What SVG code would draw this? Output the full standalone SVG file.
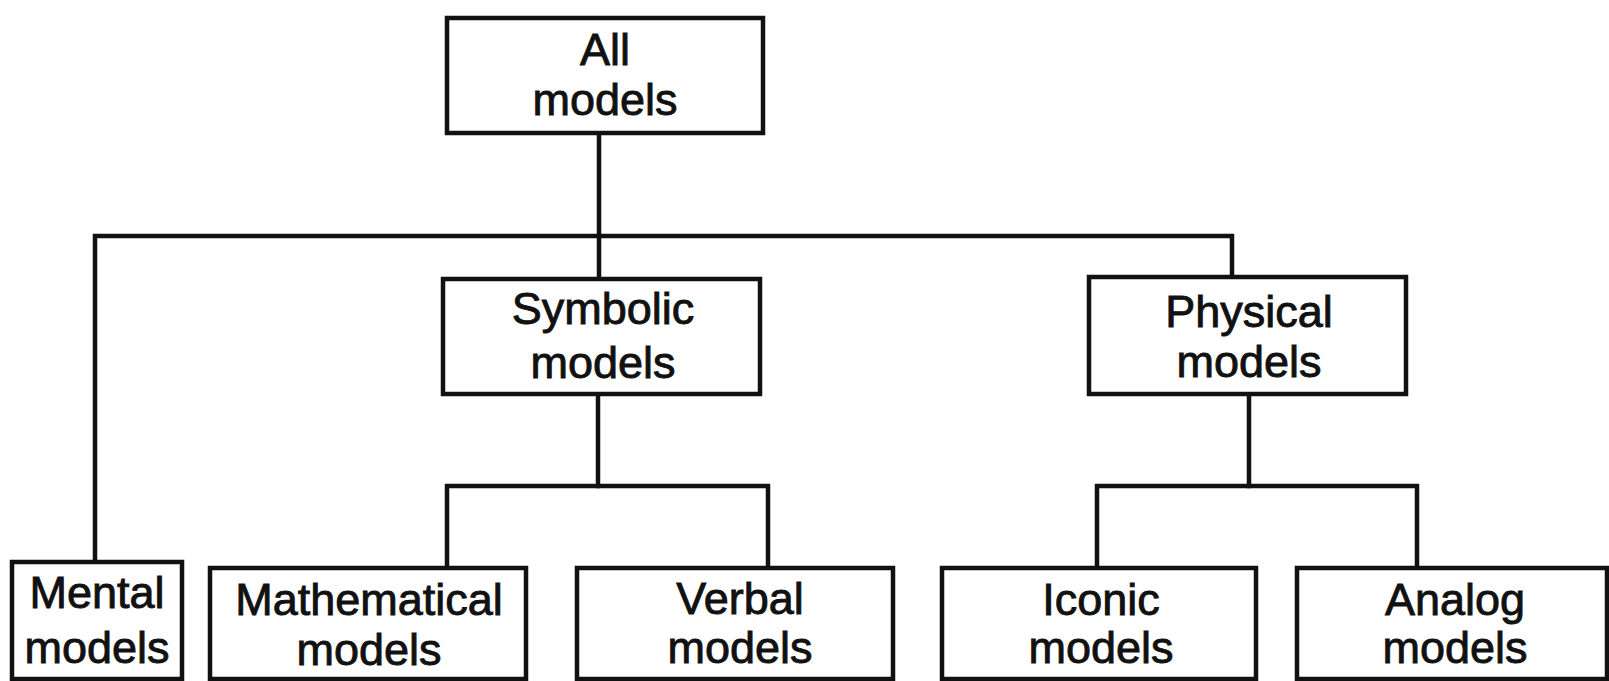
<svg xmlns="http://www.w3.org/2000/svg" width="1609" height="681" viewBox="0 0 1609 681">
  <style>
    .box { fill: #ffffff; stroke: #111111; stroke-width: 4.5; }
    .wire { fill: none; stroke: #111111; stroke-width: 4.5; stroke-linecap: square; stroke-linejoin: miter; }
    .label { font-family: "Liberation Sans", Arial, Helvetica, sans-serif; font-size: 45px; fill: #111111; stroke: #111111; stroke-width: 0.9; text-anchor: middle; }
  </style>
  <rect width="1609" height="681" fill="#ffffff"/>

  <!-- tree connectors -->
  <g id="connectors">
    <path class="wire" d="M599 133 V279"/>
    <path class="wire" d="M95 562 V236 H1232 V277"/>
    <path class="wire" d="M598 394 V486"/>
    <path class="wire" d="M447 568 V486 H768 V568"/>
    <path class="wire" d="M1249 394 V486"/>
    <path class="wire" d="M1097 568 V486 H1417 V568"/>
  </g>

  <g id="all-models">
    <rect class="box" x="447" y="18" width="316" height="115"/>
    <text class="label" x="605" y="65">All</text>
    <text class="label" x="605" y="115">models</text>
  </g>

  <g id="symbolic-models">
    <rect class="box" x="443" y="279" width="317" height="115"/>
    <text class="label" x="603" y="324">Symbolic</text>
    <text class="label" x="603" y="378">models</text>
  </g>

  <g id="physical-models">
    <rect class="box" x="1089" y="277" width="317" height="117"/>
    <text class="label" x="1249" y="327">Physical</text>
    <text class="label" x="1249" y="377">models</text>
  </g>

  <g id="mental-models">
    <rect class="box" x="12" y="562" width="170" height="117"/>
    <text class="label" x="97" y="608">Mental</text>
    <text class="label" x="97" y="663">models</text>
  </g>

  <g id="mathematical-models">
    <rect class="box" x="210" y="568" width="316" height="111"/>
    <text class="label" x="369" y="615">Mathematical</text>
    <text class="label" x="369" y="665">models</text>
  </g>

  <g id="verbal-models">
    <rect class="box" x="577" y="568" width="316" height="111"/>
    <text class="label" x="740" y="614">Verbal</text>
    <text class="label" x="740" y="663">models</text>
  </g>

  <g id="iconic-models">
    <rect class="box" x="942" y="568" width="314" height="111"/>
    <text class="label" x="1101" y="615">Iconic</text>
    <text class="label" x="1101" y="663">models</text>
  </g>

  <g id="analog-models">
    <rect class="box" x="1297" y="568" width="310" height="111"/>
    <text class="label" x="1455" y="615">Analog</text>
    <text class="label" x="1455" y="663">models</text>
  </g>
</svg>
